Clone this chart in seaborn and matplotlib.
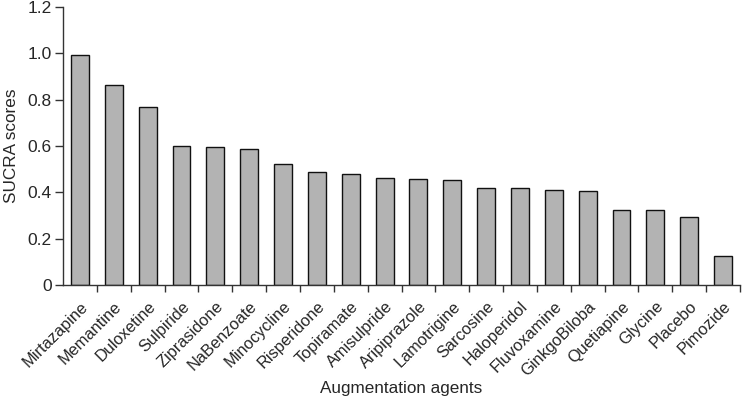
import matplotlib
matplotlib.use("Agg")
import matplotlib.pyplot as plt
import seaborn as sns
import pandas as pd
import numpy as np

agents = ["Mirtazapine", "Memantine", "Duloxetine", "Sulpiride", "Ziprasidone",
          "NaBenzoate", "Minocycline", "Risperidone", "Topiramate", "Amisulpride",
          "Aripiprazole", "Lamotrigine", "Sarcosine", "Haloperidol", "Fluvoxamine",
          "GinkgoBiloba", "Quetiapine", "Glycine", "Placebo", "Pimozide"]
sucra = [0.993, 0.863, 0.767, 0.601, 0.596, 0.587, 0.521, 0.489, 0.479, 0.462,
         0.456, 0.452, 0.417, 0.417, 0.409, 0.406, 0.322, 0.322, 0.293, 0.126]
yticks = [0, 0.2, 0.4, 0.6, 0.8, 1.0, 1.2]
ytick_labels = ["0", "0.2", "0.4", "0.6", "0.8", "1.0", "1.2"]

sns.set_style("ticks")
plt.rcParams["font.family"] = ["Liberation Sans", "DejaVu Sans"]

df = pd.DataFrame({"agent": agents, "sucra": sucra})

fig = plt.figure(figsize=(7.43, 4.01), dpi=100)
ax = fig.add_axes([63/743, 1-285/401, (740-63)/743, (285-7)/401])
sns.barplot(data=df, x="agent", y="sucra", color="#b3b3b3", edgecolor="#111111",
            linewidth=1.0, width=0.53, saturation=1, ax=ax)

ax.set_xlim(-0.5, len(agents) - 0.5)
ax.set_ylim(0, 1.2)
ax.set_yticks(yticks)
ax.set_yticklabels(ytick_labels, fontsize=12.5)
ax.set_xticks(range(len(agents)))
ax.set_xticklabels(agents, rotation=45, ha="right", rotation_mode="anchor", fontsize=11.8)
ax.tick_params(axis="x", which="major", length=0, pad=10)
ax.set_xticks(np.arange(0.5, len(agents), 1.0), minor=True)
ax.tick_params(axis="x", which="minor", length=5, width=1, color="#333333", direction="out")
ax.tick_params(axis="y", length=6, width=1, color="#333333", direction="out", pad=2)

for s in ["top", "right"]:
    ax.spines[s].set_visible(False)
for s in ["left", "bottom"]:
    ax.spines[s].set_color("#333333")
    ax.spines[s].set_linewidth(1)

ax.set_xlabel("Augmentation agents", fontsize=12.3, va="top")
ax.xaxis.set_label_coords(0.5, (285 - 381) / 278)
ax.set_ylabel("SUCRA scores", fontsize=12.3, labelpad=6)

fig.savefig("out.png", dpi=100)
